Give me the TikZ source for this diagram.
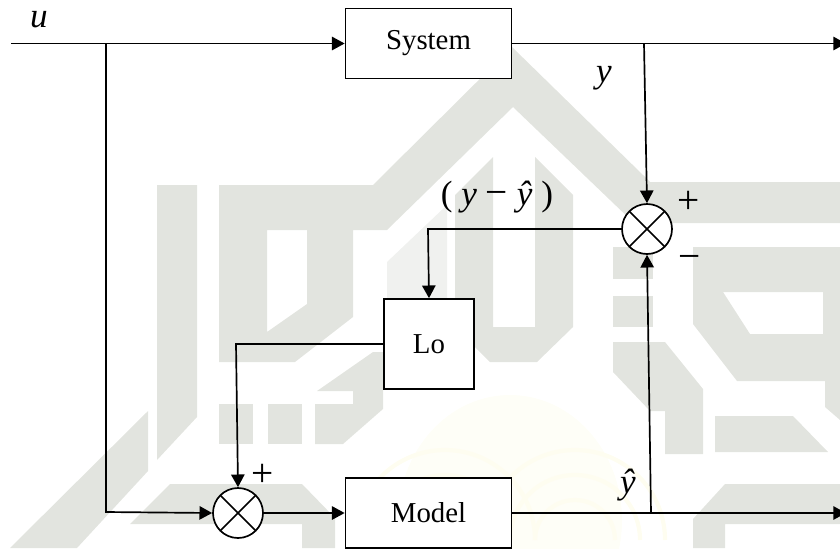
\documentclass[tikz,border=0pt]{standalone}
\usepackage{xcolor}
\usepackage{fontspec}
\setmainfont{Liberation Serif}
\usetikzlibrary{arrows.meta}
\definecolor{MyWatermark}{RGB}{226,228,223}
\definecolor{MyLogoYellow}{RGB}{254,254,247}
\definecolor{MyLogoArc}{RGB}{254,253,240}
\tikzset{
    block/.style={draw, fill=white, line width=1.2pt, inner sep=0pt, font=\fontsize{20.5}{24}\selectfont},
    junction/.style={draw, fill=white, circle, line width=1.2pt, inner sep=0pt, minimum size=1.25cm,
        path picture={
            \draw[line width=1.2pt] (path picture bounding box.north west) -- (path picture bounding box.south east);
            \draw[line width=1.2pt] (path picture bounding box.south west) -- (path picture bounding box.north east);
        }},
    signal/.style={line width=1.2pt, -{Triangle[length=9pt,width=9.5pt]}},
    sign/.style={inner sep=0pt, font=\fontsize{25}{28}\selectfont},
    operator/.style={inner sep=0pt, font=\fontsize{28}{28}\selectfont},
    mark2/.style={fill=MyWatermark, even odd rule}
}

\begin{document}
\begin{tikzpicture}[x=0.025cm, y=-0.025cm]
    \useasboundingbox (0,0) rectangle (840,548);
    \clip (0,0) rectangle (840,548);
    % watermark
    \fill[MyLogoYellow] (510,520) ellipse (112 and 125);
    \foreach \r in {40,65,90} {
        \draw[MyLogoArc, line width=3pt] (445,540) ++(180:\r) arc (180:360:\r);
        \draw[MyLogoArc, line width=3pt] (575,540) ++(180:\r) arc (180:360:\r);
    }
    \fill[mark2] (157,185) -- (197,185) -- (197,417) -- (157,460) -- cycle;
    \fill[mark2] (148,411) -- (148,471) -- (77,548) -- (10,548) -- cycle;
    \fill[mark2] (219,185) -- (373,185) -- (512,47) -- (643,175) -- (650,182) -- (840,182) -- (840,223) -- (634,223)
        -- (513,107) -- (387,230) -- (353,230) -- (353,317) -- (295,362) -- (219,362) -- cycle
        (267,230) -- (307,230) -- (307,304) -- (267,332) -- cycle;
    \fill[MyWatermark!50] (387,262) -- (447,205) -- (447,299) -- (387,299) -- cycle;
    \fill[mark2] (493,157) -- (493,327) -- (535,327) -- (535,157) -- (573,195) -- (573,327) -- (537,362) -- (490,362) -- (455,327) -- (455,195) -- cycle;
    \fill[mark2] (219,404) rectangle (253,444);
    \fill[mark2] (268,404) rectangle (302,444);
    \fill[mark2] (373,352) -- (317,391) -- (353,391) -- (353,404) -- (315,404) -- (315,444) -- (343,444) -- (383,409) -- (383,352) -- cycle;
    \fill[mark2] (170,484) -- (302,484) -- (335,518) -- (335,548) -- (302,548) -- (302,524) -- (130,524) -- cycle;
    \fill[mark2] (613,247) rectangle (653,279);
    \fill[mark2] (613,296) rectangle (653,327);
    \fill[mark2] (613,342) -- (665,342) -- (703,389) -- (703,454) -- (665,454) -- (665,411) -- (650,411) -- (613,372) -- cycle;
    \fill[mark2] (693,247) -- (840,247) -- (840,420) -- (825,407) -- (825,381) -- (737,381) -- (693,324) -- cycle
        (723,292) -- (823,292) -- (823,334) -- (750,334) -- cycle;
    \fill[mark2] (715,416) -- (793,416) -- (828,452) -- (715,452) -- cycle;
    \fill[mark2] (725,484) -- (840,484) -- (840,524) -- (725,524) -- (725,548) -- (693,548) -- (693,519) -- cycle;
    % blocks
    \node[block, minimum width=4.15cm, minimum height=1.75cm] (system) at (428.5,43.5) {System};
    \node[block, minimum width=2.25cm, minimum height=2.25cm] (lo) at (429,344) {Lo};
    \node[block, minimum width=4.15cm, minimum height=1.75cm] (model) at (428.5,513) {Model};
    \node[junction] (sumTop) at (647,229) {};
    \node[junction] (sumBottom) at (238,513) {};
    % free ends
    \coordinate (uIn) at (11,43.5);
    \coordinate (uTap) at (106,43.5);
    \coordinate (uCorner) at (106,512);
    \coordinate (yTap) at (644,43.5);
    \coordinate (yOut) at (846,43.5);
    \coordinate (yHatTap) at (651,513);
    \coordinate (yHatOut) at (846,513);
    \coordinate (errCorner) at (428,229);
    \coordinate (loCorner) at (236,344);
    % connectors
    \draw[signal] (uIn) -- (system.west);
    \draw[signal] (system.east) -- (yOut);
    \draw[signal] (yTap) -- (sumTop.north);
    \draw[signal] (uTap) -- (uCorner) -- (sumBottom.west);
    \draw[signal] (sumTop.west) -- (errCorner) -- (lo.north);
    \draw[signal] (lo.west) -- (loCorner) -- (sumBottom.north);
    \draw[signal] (sumBottom.east) -- (model.west);
    \draw[signal] (model.east) -- (yHatOut);
    \draw[signal] (yHatTap) -- (sumTop.south);
    % labels
    \node[sign] (uLabel) at (39,20) {\textit{u}};
    \node[sign] (yLabel) at (604,78) {\textit{y}};
    \node[sign] (errLabel) at (497,197) {( \textit{y} {\fontsize{28}{28}\selectfont −} \textit{ŷ} )};
    \node[sign] (yHatLabel) at (628,485) {\textit{ŷ}};
    \node[operator] (plusTop) at (689,202) {+};
    \node[operator] (minusTop) at (690,262) {−};
    \node[operator] (plusBottom) at (263,475) {+};
\end{tikzpicture}
\end{document}
